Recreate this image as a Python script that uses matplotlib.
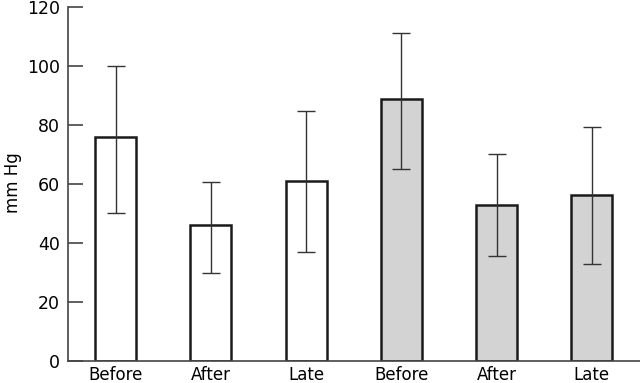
import matplotlib
matplotlib.use("Agg")
import matplotlib.pyplot as plt
import numpy as np

categories = ["Before", "After", "Late", "Before", "After", "Late"]
means = [75.8, 45.9, 61.1, 88.9, 53.0, 56.2]
upper = [100.2, 60.7, 84.7, 111.4, 70.2, 79.4]
lower = [50.0, 29.8, 37.0, 65.0, 35.5, 32.9]
fills = ["white", "white", "white", "#d3d3d3", "#d3d3d3", "#d3d3d3"]
yticks = [0, 20, 40, 60, 80, 100, 120]

plt.rcParams['font.family'] = ['DejaVu Sans']

fig = plt.figure(figsize=(6.4, 3.83), dpi=100)
ax = fig.add_axes([68/640, 22.5/383, 1 - 68/640 - 0.5/640, (360.5 - 7.3)/383])

x = np.arange(len(categories))
means_a = np.array(means)
yerr = np.vstack([means_a - np.array(lower), np.array(upper) - means_a])

ax.bar(x, means, width=0.43, color=fills, edgecolor="#1a1a1a", linewidth=1.8, zorder=2)
ax.errorbar(x, means, yerr=yerr, fmt="none", ecolor="#333333", elinewidth=1.0,
            capsize=6.5, capthick=1.0, zorder=3)

ax.set_xlim(-0.5, 5.5)
ax.set_ylim(0, 120)
ax.set_yticks(yticks)
ax.set_xticks(x)
ax.set_xticklabels(categories, fontsize=12)
ax.tick_params(axis="y", direction="in", length=10.5, width=1.2, color="#444444",
               labelsize=12.5, pad=6)
ax.tick_params(axis="x", length=0, pad=4)
for s in ["top", "right"]:
    ax.spines[s].set_visible(False)
for s in ["left", "bottom"]:
    ax.spines[s].set_color("#444444")
    ax.spines[s].set_linewidth(1.2)

ax.set_ylabel("mm Hg", fontsize=12)
ax.yaxis.set_label_coords(-0.08, 0.503)

fig.savefig("out.png", dpi=100)
